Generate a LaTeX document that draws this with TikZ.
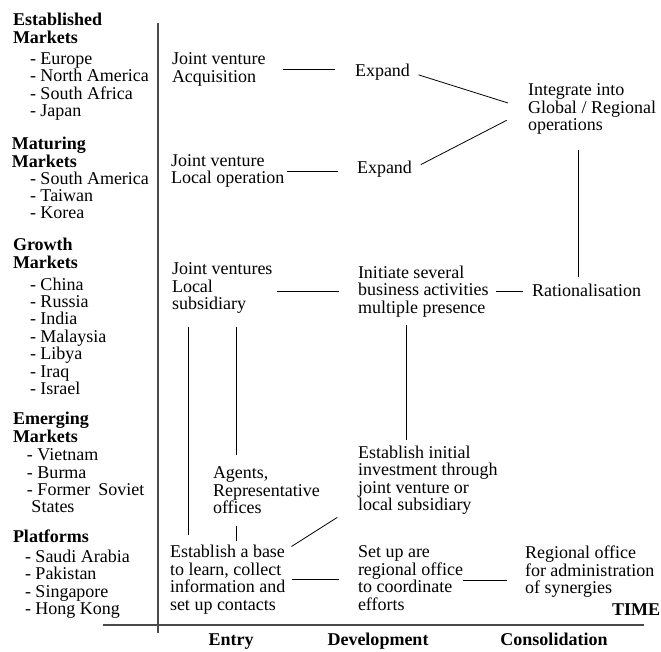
\documentclass[tikz,border=0pt]{standalone}
\usepackage{fontspec}
\setmainfont{Liberation Serif}
\usepackage{tikz}
\definecolor{axisgray}{HTML}{4A4A4A}

\begin{document}
\begin{tikzpicture}[x=1pt, y=-1pt,
  every node/.style={inner sep=0pt, outer sep=0pt, anchor=north west, align=left,
    font=\fontsize{18}{17.4}\selectfont},
  region/.style={font=\fontsize{18}{17.6}\selectfont\bfseries},
  phase/.style={anchor=base, font=\fontsize{18}{17.4}\selectfont\bfseries},
  link/.style={draw=black, line width=0.8pt},
  axis/.style={draw=axisgray, line width=1.1pt}]
  \useasboundingbox (0,0) rectangle (661,651);

  % Market groups (left column)
  \node[region] (estH) at (13,13) {Established\\Markets};
  \node (estL) at (30,52.7) {- Europe\\- North America\\- South Africa\\- Japan};
  \node[region] (matH) at (12,137.5) {Maturing\\Markets};
  \node (matL) at (30,171.7) {- South America\\- Taiwan\\- Korea};
  \node[region] (groH) at (13,238.5) {Growth\\Markets};
  \node (groL) at (30,277.7) {- China\\- Russia\\- India\\- Malaysia\\- Libya\\- Iraq\\- Israel};
  \node[region] (emeH) at (13,412.5) {Emerging\\Markets};
  \node (emeL) at (27,448.7) {- Vietnam\\- Burma\\- Former\hspace{8pt}Soviet\\\hspace{4.5pt}States};
  \node[region] (plaH) at (13,530) {Platforms};
  \node (plaL) at (25,550) {- Saudi Arabia\\- Pakistan\\- Singapore\\- Hong Kong};

  % Entry
  \node (jvAcq) at (172,53) {Joint venture\\Acquisition};
  \node (jvLoc) at (171,154.5) {Joint venture\\Local operation};
  \node (jvSub) at (172,263) {Joint ventures\\Local\\subsidiary};
  \node (agents) at (213,467) {Agents,\\Representative\\offices};
  \node (base) at (170,545.5) {Establish a base\\to learn, collect\\information and\\set up contacts};

  % Development
  \node (expA) at (355,64) {Expand};
  \node (expB) at (357,161) {Expand};
  \node (several) at (358,266) {Initiate several\\business activities\\multiple presence};
  \node (invest) at (358,446) {Establish initial\\investment through\\joint venture or\\local subsidiary};
  \node (setup) at (358,546) {Set up are\\regional office\\to coordinate\\efforts};

  % Consolidation
  \node (integ) at (528,84) {Integrate into\\Global / Regional\\operations};
  \node (ration) at (532,284) {Rationalisation};
  \node (regoff) at (525,546) {Regional office\\for administration\\of synergies};

  % Axes and stage labels
  \draw[axis] (158,23) -- (158,633);
  \draw[axis] (103,625) -- (644,625);
  \node[phase, anchor=base east] (time) at (660,615) {TIME};
  \node[phase] (entry) at (231,645) {Entry};
  \node[phase] (devel) at (378,645) {Development};
  \node[phase] (consol) at (554,645) {Consolidation};

  % Links
  \draw[link, shorten <=18pt, shorten >=20pt] (jvAcq.east) -- (jvAcq.east -| expA.west);
  \draw[link, shorten <=2.5pt, shorten >=19pt] (jvLoc.east) -- (jvLoc.east -| expB.west);
  \draw[link, shorten <=4.5pt, shorten >=19pt] (jvSub.east |- several.west) -- (several.west);
  \draw[link, shorten <=9pt, shorten >=21pt] (expA.east) -- (integ.west);
  \draw[link, shorten <=10pt, shorten >=24pt] (expB.east) -- (integ.west);
  \draw[link, shorten <=15pt, shorten >=7pt] ([xshift=-14pt]integ.south) -- ([xshift=-14pt]integ.south |- ration.north);
  \draw[link, shorten <=8pt, shorten >=9pt] (several.east) -- (several.east -| ration.west);
  \draw[link, shorten <=8pt, shorten >=6pt] ([xshift=48pt]several.south west) -- ([xshift=48pt]several.south west |- invest.north);
  \draw[link, shorten <=13pt, shorten >=12pt] ([xshift=23pt]agents.north west |- jvSub.south) -- ([xshift=23pt]agents.north west);
  \draw[link, shorten <=13pt, shorten >=10.5pt] ([xshift=18pt]base.north west |- jvSub.south) -- ([xshift=18pt]base.north west);
  \draw[link, shorten <=12pt, shorten >=4.5pt] ([xshift=23pt]agents.south west) -- ([xshift=23pt]agents.south west |- base.north);
  \draw[link] ([xshift=6pt,yshift=-1pt]base.north east) -- ([xshift=-20.7pt,yshift=-2.8pt]invest.south west);
  \draw[link, shorten <=6.5pt, shorten >=19pt] (base.east) -- (base.east -| setup.west);
  \draw[link, shorten >=18pt] ([yshift=-2.5pt]setup.east) -- ([yshift=-2.5pt]setup.east -| regoff.west);
\end{tikzpicture}
\end{document}
